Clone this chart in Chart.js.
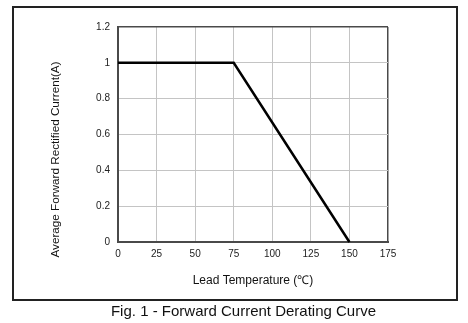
<!DOCTYPE html>
<html>
<head>
<meta charset="utf-8">
<script src="https://cdn.jsdelivr.net/npm/chart.js@4"></script>
<style>
    html, body { margin: 0; padding: 0; background: #fff; }
    canvas { display: block; }
</style>
</head>
<body>
<canvas id="derating" width="468" height="323"></canvas>
<script>
// Derating curve: lead temperature (°C) vs average forward current (A)
const temps = [0, 75, 150];
const currents = [1, 1, 0];

const xTicks = [0, 25, 50, 75, 100, 125, 150, 175];
const xTickLabels = ['0', '25', '50', '75', '100', '125', '150', '175'];
const yTicks = [0, 0.2, 0.4, 0.6, 0.8, 1, 1.2];
const yTickLabels = ['0', '0.2', '0.4', '0.6', '0.8', '1', '1.2'];

const xTitle = 'Lead Temperature (\u2103)';
const yTitle = 'Average Forward Rectified Current(A)';
const caption = 'Fig. 1 - Forward Current Derating Curve';

const FONT = '"Liberation Sans", Arial, sans-serif';
const GRID = '#c4c4c4';
const EDGE = '#4a4a4a';

// outer frame, rotated y title and the caption underneath
const decorations = {
    id: 'decorations',
    afterDraw(chart) {
        const ctx = chart.ctx;
        ctx.save();
        ctx.strokeStyle = '#222';
        ctx.lineWidth = 2;
        ctx.strokeRect(13, 7, 444, 293);

        ctx.fillStyle = '#111';
        ctx.font = '11.7px ' + FONT;
        ctx.textAlign = 'center';
        ctx.textBaseline = 'middle';
        ctx.translate(56, 159.5);
        ctx.rotate(-Math.PI / 2);
        ctx.fillText(yTitle, 0, 0);
        ctx.restore();

        ctx.save();
        ctx.fillStyle = '#111';
        ctx.font = '15px ' + FONT;
        ctx.textAlign = 'center';
        ctx.textBaseline = 'middle';
        ctx.fillText(caption, 243.5, 312);
        ctx.restore();
    }
};

new Chart(document.getElementById('derating'), {
    type: 'line',
    data: {
        datasets: [{
            data: temps.map((t, i) => ({ x: t, y: currents[i] })),
            borderColor: '#000',
            borderWidth: 2.5,
            pointRadius: 0,
            tension: 0,
            fill: false,
            clip: false
        }]
    },
    options: {
        responsive: false,
        animation: false,
        layout: { padding: { left: 0, top: 27, right: 80, bottom: 0 } },
        plugins: {
            legend: { display: false },
            tooltip: { enabled: false }
        },
        scales: {
            x: {
                type: 'linear',
                min: xTicks[0],
                max: xTicks[xTicks.length - 1],
                afterFit(scale) { scale.height = 81; },
                afterBuildTicks(scale) { scale.ticks = xTicks.map(v => ({ value: v })); },
                ticks: {
                    padding: 6,
                    color: '#222',
                    font: { family: FONT, size: 10 },
                    maxRotation: 0,
                    callback: (v, i) => xTickLabels[i]
                },
                grid: {
                    drawTicks: false,
                    color: c => c.tick && c.tick.value === 175 ? EDGE : GRID,
                    lineWidth: c => c.tick && c.tick.value === 175 ? 1.5 : 1
                },
                border: { color: EDGE, width: 2 },
                title: {
                    display: true,
                    text: xTitle,
                    color: '#111',
                    font: { family: FONT, size: 12 },
                    padding: { top: 0, bottom: 35 }
                }
            },
            y: {
                min: yTicks[0],
                max: yTicks[yTicks.length - 1],
                afterFit(scale) { scale.width = 118; },
                afterBuildTicks(scale) { scale.ticks = yTicks.map(v => ({ value: v })); },
                ticks: {
                    padding: 8,
                    color: '#222',
                    font: { family: FONT, size: 10 },
                    callback: (v, i) => yTickLabels[i]
                },
                grid: {
                    drawTicks: false,
                    color: c => c.tick && c.tick.value === 1.2 ? EDGE : GRID,
                    lineWidth: c => c.tick && c.tick.value === 1.2 ? 1.5 : 1
                },
                border: { color: EDGE, width: 2 }
            }
        }
    },
    plugins: [decorations]
});
</script>
</body>
</html>
